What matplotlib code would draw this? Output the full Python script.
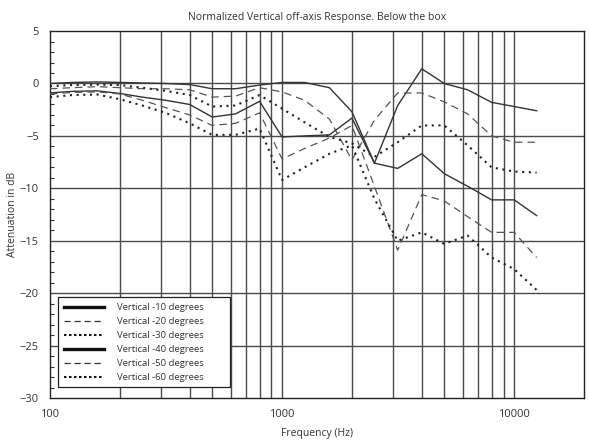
import numpy as np
import matplotlib
matplotlib.use('Agg')
import matplotlib.pyplot as plt
from matplotlib.lines import Line2D
from matplotlib.patches import Rectangle
from matplotlib.ticker import MultipleLocator, FixedLocator, NullFormatter

plt.rcParams['font.family'] = ['Open Sans', 'DejaVu Sans']

# 1/3 octave frequencies (Hz)
freqs = [100, 125, 160, 200, 250, 315, 400, 500, 630, 800, 1000, 1250,
         1600, 2000, 2500, 3150, 4000, 5000, 6300, 8000, 10000, 12500]

# attenuation in dB
deg10 = [0, 0.1, 0.15, 0.1, 0.05, 0, -0.1, -0.5, -0.5, -0.15, 0.1, 0.1,
         -0.4, -2.7, -7.6, -2.1, 1.4, 0, -0.6, -1.8, -2.2, -2.6]
deg20 = [-0.5, -0.4, -0.3, -0.4, -0.5, -0.5, -0.6, -1.3, -1.2, -0.4, -0.8, -1.6,
         -3.4, -7.3, -3.5, -0.9, -0.9, -1.75, -2.9, -5.0, -5.6, -5.6]
deg30 = [-0.25, -0.15, -0.1, -0.15, -0.4, -0.7, -1.1, -2.2, -2.1, -1.1, -2.4, -3.7,
         -5.1, -5.7, -7.0, -5.6, -4.0, -4.0, -5.9, -8.0, -8.4, -8.5]
deg40 = [-0.9, -0.75, -0.7, -0.95, -1.3, -1.6, -2.0, -3.2, -2.9, -1.7, -5.1, -5.0,
         -4.9, -3.3, -7.6, -8.1, -6.7, -8.6, -9.8, -11.1, -11.1, -12.6]
deg50 = [-1.0, -0.85, -0.8, -1.0, -1.6, -2.3, -3.0, -4.0, -3.8, -2.8, -7.2, -6.2,
         -5.2, -4.0, -9.8, -15.9, -10.6, -11.2, -12.7, -14.2, -14.2, -16.6]
deg60 = [-1.3, -1.1, -1.05, -1.5, -2.1, -2.8, -3.8, -4.9, -4.9, -4.3, -9.2, -8.0,
         -6.7, -5.9, -11.0, -15.0, -14.2, -15.3, -14.5, -16.6, -17.7, -19.7]

labels = ['Vertical -10 degrees', 'Vertical -20 degrees', 'Vertical -30 degrees',
          'Vertical -40 degrees', 'Vertical -50 degrees', 'Vertical -60 degrees']

fig = plt.figure(figsize=(5.89, 4.44), dpi=100)
ax = fig.add_axes([0.0849, 0.1036, 0.9066, 0.8264])

# grid
grid_x = [200, 300, 400, 500, 600, 700, 800, 900, 1000,
          2000, 3000, 4000, 5000, 6000, 7000, 8000, 9000, 10000]
for gx in grid_x:
    ax.axvline(gx, color='#4a4a4a', lw=1.0, zorder=1)
for gy in range(-25, 5, 5):
    ax.axhline(gy, color='#4a4a4a', lw=1.0, zorder=1)

# the curves
solid = dict(color='#333333', lw=1.0, ls='-')
dashed = dict(color='#555555', lw=0.9, ls=(0, (6, 4)))
dotted = dict(color='#222222', lw=1.5, ls=(0, (1, 2.2)))

ax.plot(freqs, deg10, **solid, zorder=3)
ax.plot(freqs, deg20, **dashed, zorder=3)
ax.plot(freqs, deg30, **dotted, zorder=3)
ax.plot(freqs, deg40, **solid, zorder=3)
ax.plot(freqs, deg50, **dashed, zorder=3)
ax.plot(freqs, deg60, **dotted, zorder=3)

ax.set_xscale('log')
ax.set_xlim(100, 20000)
ax.set_ylim(-30, 5)

ax.xaxis.set_major_locator(FixedLocator([100, 1000, 10000]))
ax.xaxis.set_major_formatter(plt.FuncFormatter(lambda v, p: f'{int(v)}'))
ax.xaxis.set_minor_formatter(NullFormatter())
ax.xaxis.set_minor_locator(FixedLocator([]))
ax.tick_params(axis='x', length=0, labelsize=8, colors='#333333', pad=8)

ax.yaxis.set_major_locator(MultipleLocator(5))
ax.yaxis.set_minor_locator(MultipleLocator(1))
ax.tick_params(axis='y', which='major', length=0, labelsize=8, colors='#333333', pad=8)
ax.tick_params(axis='y', which='minor', direction='in', length=3, width=0.8, color='#333333')

for sp in ax.spines.values():
    sp.set_color('#222222')
    sp.set_linewidth(1.0)

ax.set_title('Normalized Vertical off-axis Response. Below the box',
             fontsize=7.5, color='#333333', pad=8)
ax.set_xlabel('Frequency (Hz)', fontsize=7.5, color='#333333', labelpad=6)
ax.set_ylabel('Attenuation in dB', fontsize=7.5, color='#333333', labelpad=1)

# legend box drawn by hand, legend itself without frame
box = Rectangle((0.015, 0.030), 0.322, 0.245, transform=ax.transAxes,
                facecolor='white', edgecolor='#222222', lw=0.9, zorder=4)
ax.add_patch(box)

handles = [
    Line2D([], [], color='#111111', lw=2.4, ls='-'),
    Line2D([], [], color='#333333', lw=0.9, ls=(0, (5, 3))),
    Line2D([], [], color='#111111', lw=1.5, ls=(0, (1.2, 1.2))),
    Line2D([], [], color='#111111', lw=2.4, ls='-'),
    Line2D([], [], color='#333333', lw=0.9, ls=(0, (5, 3))),
    Line2D([], [], color='#111111', lw=1.5, ls=(0, (1.2, 1.2))),
]
leg = ax.legend(handles, labels, loc='upper left', bbox_to_anchor=(0.026, 0.258),
                fontsize=6.8, frameon=False, handlelength=4.2, handletextpad=1.45,
                labelspacing=0.52, borderpad=0, borderaxespad=0,
                labelcolor='#333333')
leg.set_zorder(5)

fig.savefig('out.png', dpi=100)
